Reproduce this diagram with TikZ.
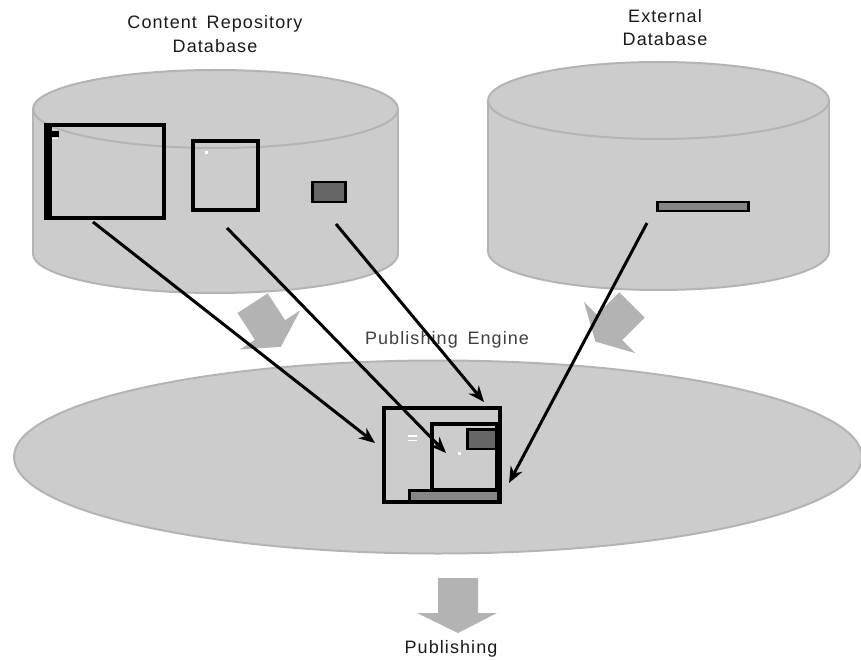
\documentclass[tikz,border=0pt]{standalone}
\usepackage{fontspec}
\setmainfont{Liberation Sans}
\newfontfamily\lblfont[LetterSpace=6,WordSpace=1.6]{Liberation Sans}
\usetikzlibrary{arrows.meta}
\definecolor{cylfill}{HTML}{CCCCCC}
\definecolor{cylline}{HTML}{B4B4B4}
\definecolor{fatgray}{HTML}{B3B3B3}
\definecolor{darkfill}{HTML}{666666}
\definecolor{barfill}{HTML}{868686}
\definecolor{labelcol}{HTML}{1A1A1A}
\definecolor{enginecol}{HTML}{404040}
\begin{document}
\begin{tikzpicture}[x=1pt,y=-1pt,
  cylbody/.style={fill=cylfill,draw=cylline,line width=2pt},
  cylside/.style={draw=cylline,line width=2pt},
  fatarrow/.style={fill=fatgray},
  winbox/.style={draw=black,line width=3.3pt},
  darkbox/.style={fill=darkfill,draw=black,line width=2.8pt},
  barbox/.style={fill=barfill,draw=black,line width=2.6pt},
  flow/.style={draw=black,line width=3pt,-{Stealth[length=16pt,width=13pt,inset=5pt]}},
  lbl/.style={inner sep=0pt,align=center,text=labelcol,
    font=\lblfont\fontsize{18}{24}\selectfont},
]
\useasboundingbox (0,0) rectangle (861,660);

% ---- fat gray arrows (behind the cylinders)
\fill[fatarrow] (237.5,313.0) -- (267.7,293.4) -- (285.1,320.2) -- (300.2,310.4)
  -- (280.9,346.8) -- (239.8,349.6) -- (254.9,339.8) -- cycle;
\fill[fatarrow] (619.4,292.2) -- (644.8,317.6) -- (622.2,340.2) -- (635.0,353.0)
  -- (595.4,341.6) -- (584.0,302.0) -- (596.8,314.8) -- cycle;
\fill[fatarrow] (438,578) -- (478,578) -- (478,613) -- (497,613) -- (458,633)
  -- (417,613) -- (438,613) -- cycle;

% ---- left cylinder: Content Repository Database
\draw[cylbody] (215.5,254) ellipse [x radius=182.5pt,y radius=39pt];
\fill[cylfill] (33,109) rectangle (398,254);
\draw[cylside] (33,109) -- (33,254) (398,109) -- (398,254);
\draw[cylbody] (215.5,109) ellipse [x radius=182.5pt,y radius=39pt];

% ---- right cylinder: External Database
\draw[cylbody] (658.5,251.5) ellipse [x radius=170.5pt,y radius=38.5pt];
\fill[cylfill] (488,100.5) rectangle (829,251.5);
\draw[cylside] (488,100.5) -- (488,251.5) (829,100.5) -- (829,251.5);
\draw[cylbody] (658.5,100.5) ellipse [x radius=170.5pt,y radius=38.5pt];

% ---- publishing engine ellipse
\draw[cylbody] (438,457) ellipse [x radius=424pt,y radius=96.5pt];

% ---- contents of left cylinder
\draw[winbox] (46,125) rectangle (164,218);
\fill[black] (45,123.5) rectangle (51.5,219.5);
\fill[black] (51,131.5) rectangle (58.5,137);
\draw[white,line width=1pt] (51.5,138.5) -- (58,138.5);
\draw[winbox] (193,141) rectangle (258,210);
\fill[white] (204.5,151) rectangle (207.5,154);
\draw[darkbox] (312.5,182) rectangle (345.5,202);

% ---- contents of right cylinder
\draw[barbox] (657.5,202) rectangle (748.5,211);

% ---- composite page in the engine
\draw[winbox] (384,408) rectangle (500,502);
\draw[winbox] (432,424) rectangle (497,490);
\draw[darkbox] (467.5,429.5) rectangle (496,449);
\draw[barbox] (409.5,490.5) rectangle (498,501);
\draw[white,line width=1.3pt] (408,436) -- (417,436) (408,440.5) -- (417,440.5);
\fill[white] (457.5,451.5) rectangle (461,455);

% ---- labels
\node[lbl] (crdb) at (215,34) {Content Repository\\Database};
\node[lbl,font=\lblfont\fontsize{18}{23}\selectfont] (extdb) at (665,28) {External\\Database};
\node[lbl,text=enginecol] (engine) at (447,340) {Publishing Engine};
\node[lbl] (publishing) at (451,649) {Publishing};

% ---- flow arrows
\coordinate (s1) at (93,222);   \coordinate (e1) at (375,443);
\coordinate (s2) at (227,228);  \coordinate (e2) at (446,453);
\coordinate (s3) at (336,224);  \coordinate (e3) at (484,402);
\coordinate (s4) at (647,223);  \coordinate (e4) at (509,483);
\draw[flow] (s1) -- (e1);
\draw[flow] (s2) -- (e2);
\draw[flow] (s3) -- (e3);
\draw[flow] (s4) -- (e4);
\end{tikzpicture}
\end{document}
